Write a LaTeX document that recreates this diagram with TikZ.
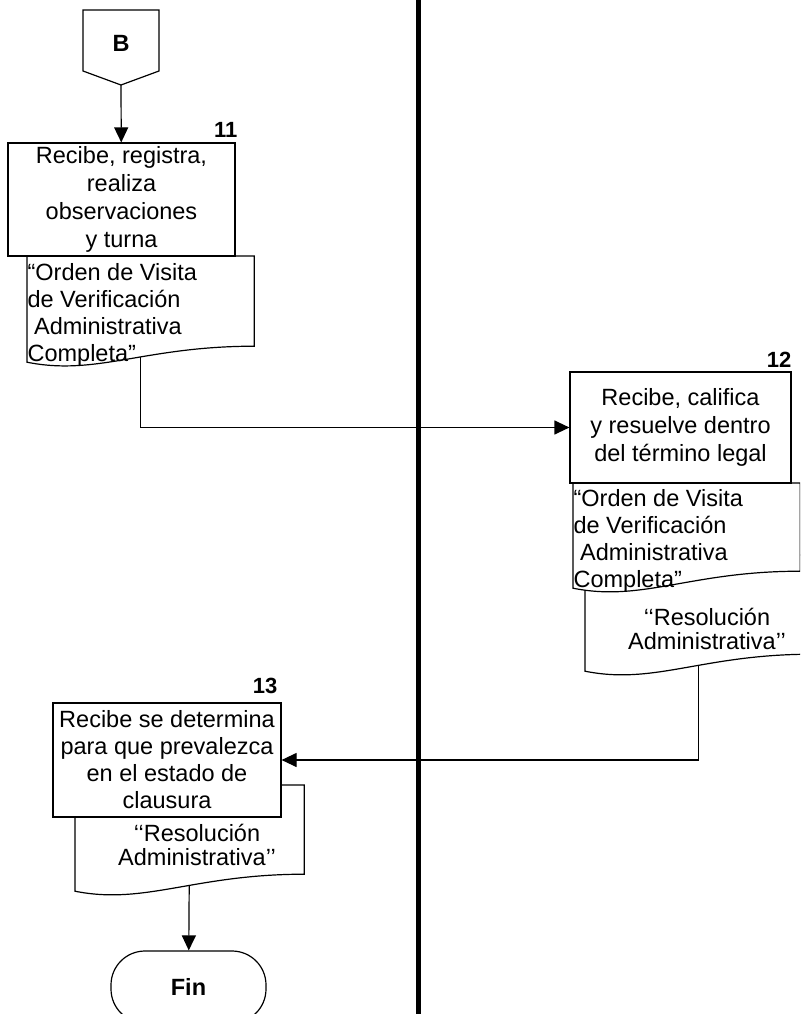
\documentclass[tikz,border=0pt]{standalone}
\usepackage{fontspec}
\setmainfont{Liberation Sans}
\usetikzlibrary{arrows.meta,backgrounds}

% document shape drawn round an empty node: #1 node, #2 drop of the left end
\newcommand{\docwave}[2]{%
  \draw[docline] ([yshift=-#2]#1.south west) -- (#1.north west) -- (#1.north east) -- (#1.south east)
    .. controls +(-110pt,0pt) and +(70pt,-14pt) .. ([yshift=-#2]#1.south west) -- cycle;}

\begin{document}
\begin{tikzpicture}[
    x=1pt, y=-1pt,
    font=\fontsize{23.5}{28}\selectfont,
    line width=1.2pt,
    proc/.style={draw, fill=white, align=center, inner sep=1pt},
    doc/.style={inner sep=0pt, anchor=north west},
    docline/.style={draw, fill=white},
    doctext/.style={inner sep=0pt, align=left, font=\fontsize{23.5}{27}\selectfont},
    resol/.style={inner sep=0pt, align=center, font=\fontsize{23.5}{24}\selectfont},
    num/.style={inner sep=0pt, anchor=base east, font=\fontsize{22}{24}\selectfont\bfseries},
    flow/.style={line width=1.2pt, -{Triangle[length=15pt,width=14pt]}},
    lane/.style={line width=5pt},
]
\useasboundingbox (0,0) rectangle (800,1014);
\clip (0,0) rectangle (800,1014);

% off-page connector
\node[inner sep=0pt, font=\fontsize{23.5}{28}\selectfont\bfseries] (B) at (121,43) {B};
\draw (B.center) ++(-38,-33) -- ++(76,0) -- ++(0,61) -- ++(-38,14) -- ++(-38,-14) -- cycle;
\coordinate (Btip) at ([yshift=-42pt]B.center);

% documents
\node[doc, minimum width=226pt, minimum height=89pt] (d1) at (27,256) {};
\node[doc, minimum width=226pt, minimum height=98pt] (d12b) at (585,555) {};
\node[doc, minimum width=226pt, minimum height=87pt] (d12a) at (573,483) {};
\node[doc, minimum width=228pt, minimum height=88pt] (d13) at (75,785) {};
\docwave{d1}{16pt}
\docwave{d12b}{17pt}
\docwave{d12a}{17pt}
\docwave{d13}{17pt}

\node[doctext, anchor=north west] (t1) at (27,263) {“Orden de Visita\\de Verificación\\\ Administrativa\\Completa”};
\node[doctext, anchor=north west] (t12a) at (573,489) {“Orden de Visita\\de Verificación\\\ Administrativa\\Completa”};
\node[resol] (t12b) at (707,629) {‘‘Resolución\\Administrativa’’};
\node[resol] (t13) at (197,845) {‘‘Resolución\\Administrativa’’};

% process boxes
\node[proc, minimum width=227pt, minimum height=113pt] (b11) at (121.5,199.5) {Recibe, registra,\\realiza\\ observaciones\\y turna};
\node[proc, minimum width=221pt, minimum height=111pt] (b12) at (680.5,427.5) {Recibe, califica\\y resuelve dentro\\del término legal};
\node[proc, minimum width=228pt, minimum height=114pt, font=\fontsize{23.5}{27}\selectfont] (b13) at (167,760) {Recibe se determina\\para que prevalezca\\en el estado de\\clausura};

\node[num] (n11) at (238,138) {11};
\node[num] (n12) at (792,367) {12};
\node[num] (n13) at (278,693) {13};

% end
\node[draw, rounded corners=34pt, minimum width=155pt, minimum height=72pt, inner sep=0pt,
    font=\fontsize{23.5}{28}\selectfont\bfseries] (fin) at (188.5,987) {Fin};

% lane and connectors
\coordinate (lanetop) at (418,0);
\coordinate (lanebot) at (418,1014);
\begin{scope}[on background layer]
    \draw[lane] (lanetop) -- (lanebot);
    \draw[flow] (Btip) -- (b11);
    \draw[flow] (d1) |- (b12);
    \draw[flow] (d12b) |- (b13);
    \draw[flow] (d13) -- (fin);
\end{scope}
\end{tikzpicture}
\end{document}
